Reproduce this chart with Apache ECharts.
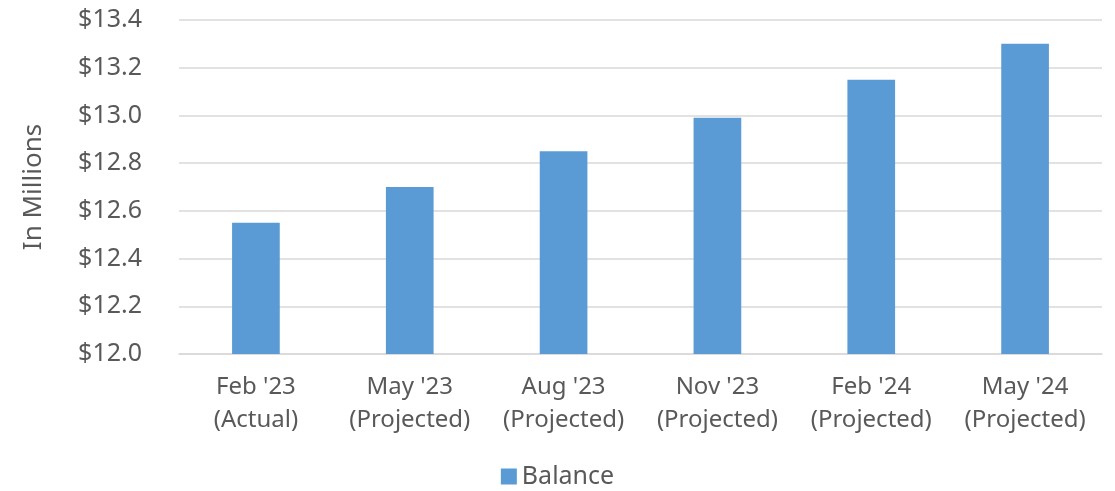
<!DOCTYPE html>
<html><head><meta charset="utf-8">
<script src="https://cdn.jsdelivr.net/npm/echarts@6/dist/echarts.min.js"></script>
<style>html,body{margin:0;padding:0;background:#fff}#c{width:1115px;height:491px}</style>
</head><body><div id="c"></div>
<script>
const categories = ["Feb '23\n(Actual)", "May '23\n(Projected)", "Aug '23\n(Projected)", "Nov '23\n(Projected)", "Feb '24\n(Projected)", "May '24\n(Projected)"];
const balance = [12.55, 12.70, 12.85, 12.99, 13.15, 13.30];
const seriesName = "Balance";
const yTitle = "In Millions";

const chart = echarts.init(document.getElementById('c'));
const font = "'Noto Sans', sans-serif";
chart.setOption({
  animation: false,
  grid: {left: 179, right: 13, top: 20, bottom: 137},
  legend: {
    bottom: -3, left: 'center', itemWidth: 16, itemHeight: 16, itemGap: 6,
    icon: 'rect',
    textStyle: {fontSize: 25, color: '#595959', fontFamily: font},
    data: [seriesName]
  },
  xAxis: {
    type: 'category', data: categories,
    axisTick: {show: false},
    axisLine: {lineStyle: {color: '#D9D9D9', width: 1.5}},
    axisLabel: {fontSize: 24, color: '#595959', fontFamily: font, lineHeight: 33, margin: 17, interval: 0}
  },
  yAxis: {
    type: 'value', min: 12.0, max: 13.4, interval: 0.2,
    name: yTitle, nameLocation: 'middle', nameGap: 132, nameRotate: 90,
    nameTextStyle: {fontSize: 26, color: '#595959', fontFamily: font},
    axisLine: {show: false}, axisTick: {show: false},
    splitLine: {lineStyle: {color: '#D9D9D9', width: 1.5}},
    axisLabel: {fontSize: 25, color: '#595959', fontFamily: font, margin: 37,
      formatter: v => '$' + v.toFixed(1)}
  },
  series: [{
    name: seriesName, type: 'bar', data: balance, barWidth: '31%',
    itemStyle: {color: '#5B9BD5'}
  }]
});
</script></body></html>
